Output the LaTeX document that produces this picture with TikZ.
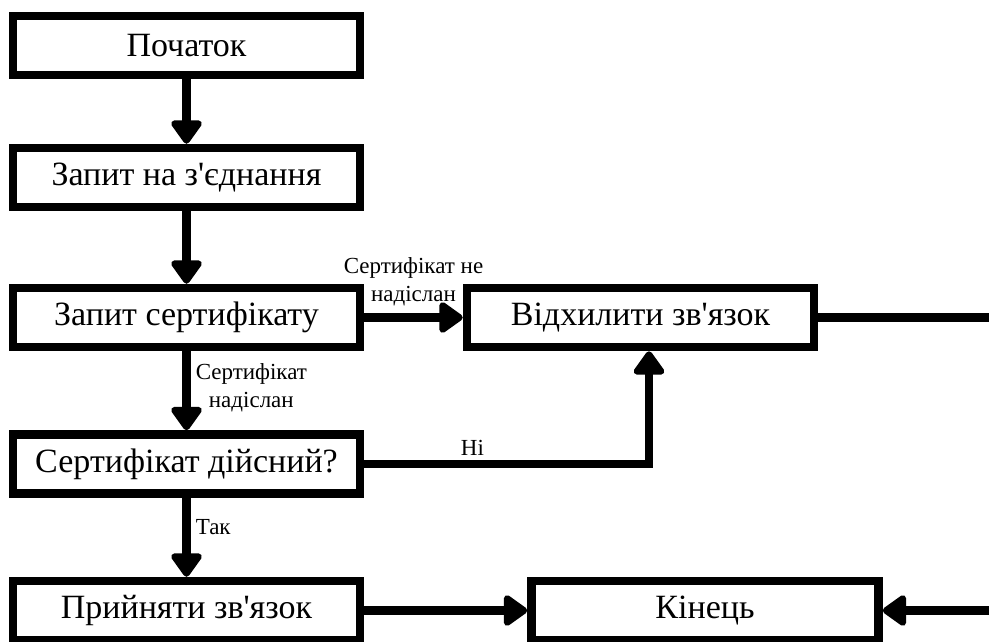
\documentclass[tikz,border=0pt]{standalone}
\usepackage{fontspec}
\setmainfont{Liberation Serif}
\usetikzlibrary{arrows.meta, positioning}

\begin{document}
\begin{tikzpicture}[x=1pt, y=-1pt,
    box/.style={draw, line width=8.5pt, minimum width=347pt, minimum height=59pt, inner sep=0pt, font=\fontsize{34}{40}\selectfont},
    arr/.style={line width=8.5pt, -{Triangle[width=35pt, length=26pt, round]}},
    lbl/.style={font=\fontsize{23}{28}\selectfont, align=center, inner sep=2pt}]
    \useasboundingbox (0, 0) rectangle (989, 641);

    % 方框
    \node[box] (start) at (186.5, 45.5) {Початок};
    \node[box] (conn) at (186.5, 177.5) {Запит на з\textquotesingle єднання};
    \node[box] (certreq) at (186.5, 317.5) {Запит сертифікату};
    \node[box] (valid) at (186.5, 464) {Сертифікат дійсний?};
    \node[box] (accept) at (186.5, 610.5) {Прийняти зв\textquotesingle язок};
    \node[box] (reject) at (640.5, 317.5) {Відхилити зв\textquotesingle язок};
    \node[box] (finish) at (705, 610.5) {Кінець};

    % 右边的出口
    \coordinate (outr) at (989, 317.5);
    \coordinate (inr) at (989, 610.5);

    % 箭头
    \draw[arr] (start) -- (conn);
    \draw[arr] (conn) -- (certreq);
    \draw[arr] (certreq) -- node[lbl, above, yshift=5pt] (lblnotsent) {Сертифікат не\\надіслан} (reject);
    \draw[arr] (certreq) -- node[lbl, right, xshift=3pt, yshift=3pt] (lblsent) {Сертифікат\\надіслан} (valid);
    \draw[arr] (valid.east) -| node[lbl, pos=0.19, above, yshift=2pt] (lblno) {Ні} ([xshift=8.5pt]reject.south);
    \draw[arr] (valid) -- node[lbl, right, xshift=3pt, yshift=10pt] (lblyes) {Так} (accept);
    \draw[arr] (accept) -- (finish);
    \draw[line width=8.5pt] (reject) -- (outr);
    \draw[arr] (inr) -- (finish);
\end{tikzpicture}
\end{document}
